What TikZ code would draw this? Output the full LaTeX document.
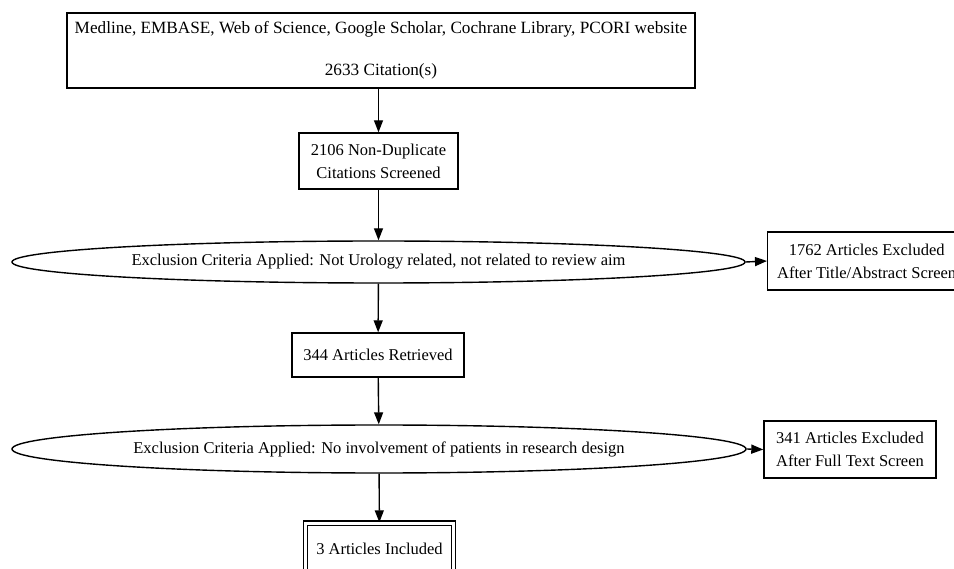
\documentclass[tikz,border=0pt]{standalone}
\usepackage{fontspec}
\setmainfont{Liberation Serif}
\usetikzlibrary{shapes.geometric,arrows.meta}

\tikzset{
	box/.style={draw,rectangle,align=center,inner sep=0pt},
	crit/.style={draw,ellipse,align=center,inner xsep=-80pt,inner ysep=0pt},
}

\begin{document}
\begin{tikzpicture}[x=1pt,y=-1pt,line width=1.4pt,font=\fontsize{16.5}{23}\selectfont,arrows=-{Triangle[length=12pt,width=9pt]}]
		\useasboundingbox (0,0) rectangle (954,569);
		\node[box,minimum width=628pt,minimum height=75pt,font=\fontsize{17.2}{23}\selectfont] (src) at (381,50.5) {Medline, EMBASE, Web of Science, Google Scholar, Cochrane Library, PCORI website\\[19pt]2633 Citation(s)};
		\node[box,minimum width=159pt,minimum height=56pt] (scr) at (378.5,161) {2106 Non-Duplicate\\Citations Screened};
		\node[crit,minimum width=733pt,minimum height=42pt] (crit1) at (378.5,262) {Exclusion Criteria Applied: Not Urology related, not related to review aim};
		\node[box,anchor=west,minimum width=198pt,minimum height=58pt] (excl1) at (767,261) {1762 Articles Excluded\\After Title/Abstract Screen};
		\node[box,minimum width=172pt,minimum height=44pt] (ret) at (378,355) {344 Articles Retrieved};
		\node[crit,minimum width=734pt,minimum height=48pt] (crit2) at (379,449) {Exclusion Criteria Applied: No involvement of patients in research design};
		\node[box,minimum width=172pt,minimum height=57pt] (excl2) at (850,449.5) {341 Articles Excluded\\After Full Text Screen};
		\node[box,double,double distance=3pt,minimum width=148pt,minimum height=52pt] (incl) at (379.5,549) {3 Articles Included};
		\draw (src.south -| scr.north)--(scr.north);
		\draw (scr)--(crit1);
		\draw (crit1.east)--(excl1.west);
		\draw (crit1)--(ret);
		\draw (ret)--(crit2);
		\draw (crit2.east)--(excl2.west);
		\draw (crit2)--(incl);
	\end{tikzpicture}
\end{document}
